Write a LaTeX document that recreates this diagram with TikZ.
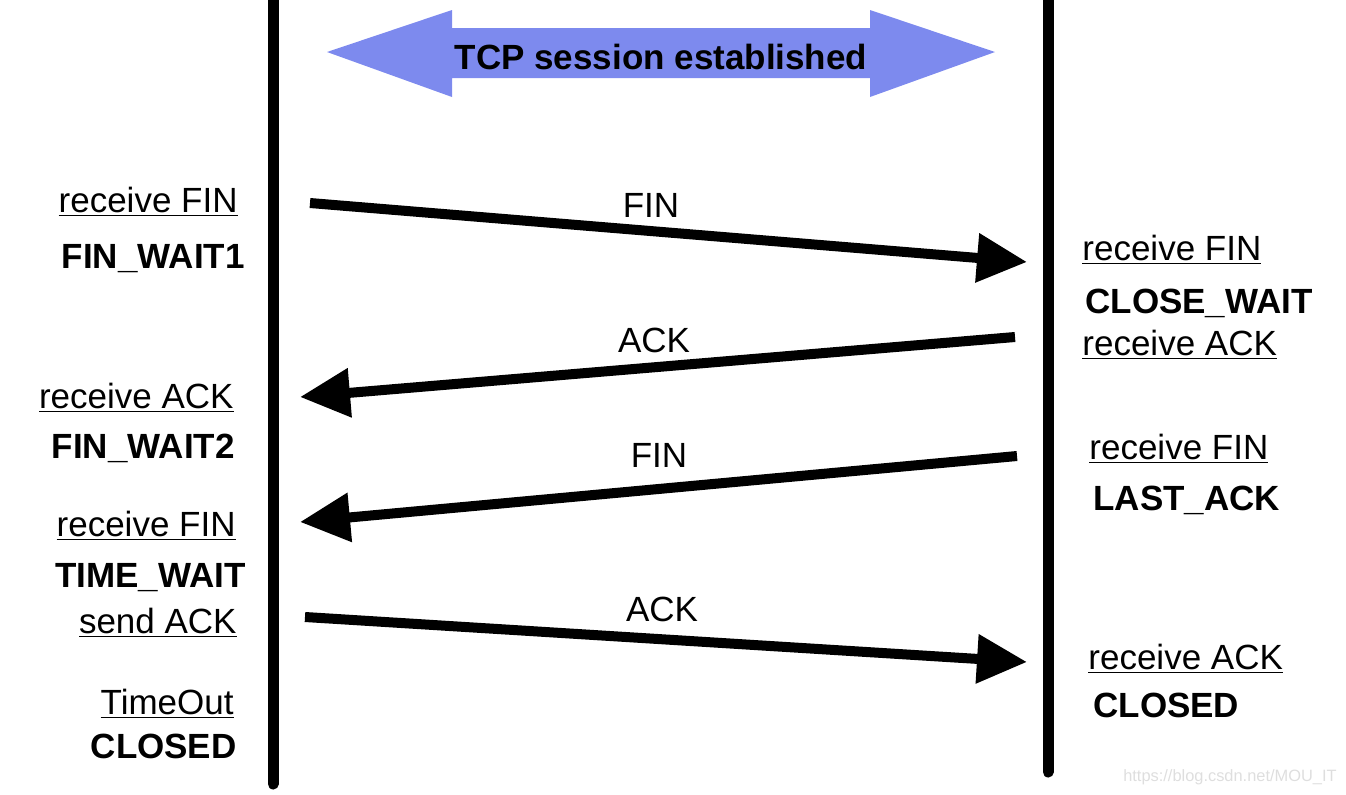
\documentclass[tikz,border=0pt]{standalone}
\usepackage{fontspec}
\setmainfont{Liberation Sans}
\usetikzlibrary{positioning}
\usetikzlibrary{arrows.meta}
\definecolor{sessionblue}{RGB}{125, 138, 238}
\definecolor{markgray}{RGB}{222, 222, 222}

\begin{document}
\begin{tikzpicture}
  [
    x = 0.5pt, y = -0.5pt,
    font = \fontsize{17.5}{20}\selectfont,
    every node/.style = {inner sep=0pt},
    lifeline/.style = {line width=5.5pt, line cap=round},
    msg/.style = {line width=5pt, -{Triangle[length=25pt,width=23.5pt]}},
    state/.style = {font=\fontsize{17.5}{20}\selectfont\bfseries}
  ]
  \useasboundingbox (0,0) rectangle (1346,794);
  % lifelines
  \coordinate (ltop) at (273,-10);
  \coordinate (lbot) at (273,784);
  \coordinate (rtop) at (1048,-10);
  \coordinate (rbot) at (1048,772);
  \draw [lifeline] (ltop) -- (lbot);
  \draw [lifeline] (rtop) -- (rbot);
  % session arrow
  \fill [sessionblue] (327,52) -- (452,10) -- (452,28) -- (870,28) -- (870,10)
    -- (995,52) -- (870,97) -- (870,78) -- (452,78) -- (452,97) -- cycle;
  \node [state, anchor=base] (tcp) at (661,69) {TCP session established};
  % left side
  \node [anchor=base east] (lrf1) at (238,212) {\underline{receive FIN}};
  \node [state, anchor=base east] (fw1) at (245,268) {FIN\_WAIT1};
  \node [anchor=base east] (lra) at (234,408) {\underline{receive ACK}};
  \node [state, anchor=base east] (fw2) at (235,458) {FIN\_WAIT2};
  \node [anchor=base east] (lrf2) at (236,536) {\underline{receive FIN}};
  \node [state, anchor=base east] (tw) at (246,587) {TIME\_WAIT};
  \node [anchor=base east] (lsa) at (237,633) {\underline{send ACK}};
  \node [anchor=base east] (lto) at (234,714) {\underline{TimeOut}};
  \node [state, anchor=base east] (lcl) at (237,758) {CLOSED};
  % right side
  \node [anchor=base west] (rrf1) at (1082,260) {\underline{receive FIN}};
  \node [state, anchor=base west] (cw) at (1085,313) {CLOSE\_WAIT};
  \node [anchor=base west] (rra1) at (1082,355) {\underline{receive ACK}};
  \node [anchor=base west] (rrf2) at (1089,459) {\underline{receive FIN}};
  \node [state, anchor=base west] (la) at (1093,510) {LAST\_ACK};
  \node [anchor=base west] (rra2) at (1088,669) {\underline{receive ACK}};
  \node [state, anchor=base west] (rcl) at (1093,717) {CLOSED};
  % messages
  \coordinate (m1s) at (310,203);
  \coordinate (m1e) at (1027,262);
  \coordinate (m2s) at (1015,337);
  \coordinate (m2e) at (300,397);
  \coordinate (m3s) at (1017,456);
  \coordinate (m3e) at (300,522);
  \coordinate (m4s) at (305,617);
  \coordinate (m4e) at (1027,662);
  \draw [msg] (m1s) -- (m1e);
  \draw [msg] (m2s) -- (m2e);
  \draw [msg] (m3s) -- (m3e);
  \draw [msg] (m4s) -- (m4e);
  \node [anchor=base] (fin1) at (651,217) {FIN};
  \node [anchor=base] (ack1) at (654,352) {ACK};
  \node [anchor=base] (fin2) at (659,467) {FIN};
  \node [anchor=base] (ack2) at (662,621) {ACK};
  \node [anchor=base east, text=markgray, font=\fontsize{8.2}{10}\selectfont] (mark) at (1337,781) {https://blog.csdn.net/MOU\_IT};
\end{tikzpicture}
\end{document}
